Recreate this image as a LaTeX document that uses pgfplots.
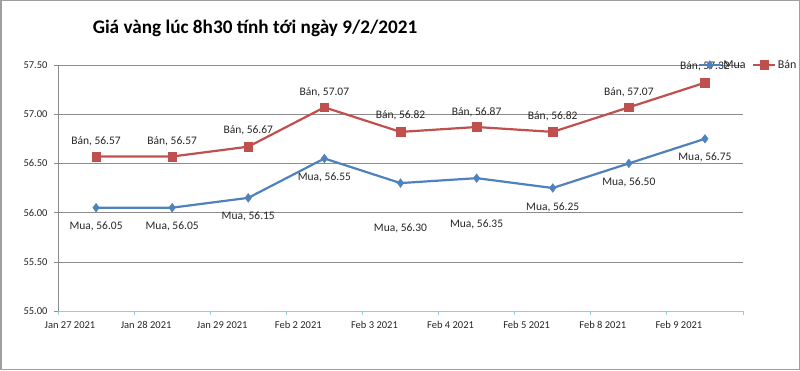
\documentclass[border=0pt]{standalone}
\usepackage{pgfplots}
\pgfplotsset{compat=1.18}
\usepackage{pgfplotstable}
\usepackage{fontspec}
\setmainfont{Carlito}
\definecolor{muablue}{HTML}{4F81BD}
\definecolor{banred}{HTML}{C0504D}
\definecolor{gridgray}{HTML}{8C8C8C}
\definecolor{axteal}{HTML}{8ED0DA}
\definecolor{txt}{HTML}{262626}

\pgfplotstableread{
x y dy
0 56.05 -19
1 56.05 -19
2 56.15 -19
3 56.55 -19
4 56.30 -45
5 56.35 -46
6 56.25 -19
7 56.50 -19
8 56.75 -19
}\muatable
\pgfplotstableread{
x y dy
0 56.57 15
1 56.57 15
2 56.67 16
3 57.07 15
4 56.82 17
5 56.87 15
6 56.82 16
7 57.07 15
8 57.32 16
}\bantable

\begin{document}
\begin{tikzpicture}
\draw[gray!75, line width=1.5pt] (0.75pt,0.75pt) rectangle (799.25pt,369.25pt);
\node[font=\bfseries\fontsize{19.2}{22}\selectfont, text=black, anchor=center] at (255pt,342pt) {Giá vàng lúc 8h30 tính tới ngày 9/2/2021};
\begin{axis}[
  at={(58pt,59pt)}, anchor=south west, scale only axis,
  width=685pt, height=246pt,
  xmin=-0.5, xmax=8.5, ymin=55, ymax=57.5,
  xtick={-0.5,0.5,1.5,2.5,3.5,4.5,5.5,6.5,7.5,8.5},
  xticklabels={Jan 27 2021,Jan 28 2021,Jan 29 2021,Feb 2 2021,Feb 3 2021,Feb 4 2021,Feb 5 2021,Feb 8 2021,Feb 9 2021,{}},
  ytick={55,55.5,56,56.5,57,57.5},
  ymajorgrids, grid style={gridgray, line width=0.6pt},
  axis x line*=bottom, axis y line*=left,
  x axis line style={axteal, line width=0.8pt, -},
  y axis line style={gridgray, line width=0.6pt, -},
  tick align=outside, major tick length=4pt,
  xtick style={axteal, line width=0.8pt},
  ytick style={gridgray, line width=0.6pt},
  tick label style={font=\fontsize{10.5}{12}\selectfont, text=txt},
  /pgf/number format/assume math mode=true,
  yticklabel={\pgfmathprintnumber[fixed,fixed zerofill,precision=2]{\tick}},
  yticklabel style={xshift=-3pt},
  xticklabel style={xshift=12pt, yshift=-3pt},
  legend image code/.code={\draw[mark repeat=2,mark phase=2] plot coordinates {(0pt,0pt)(11pt,0pt)(22pt,0pt)};},
  legend style={at={(0.932,1)}, anchor=west, draw=none, fill=none,
    font=\fontsize{12}{14}\selectfont, text=txt, legend columns=2,
    inner sep=1pt,
    /tikz/every even column/.append style={column sep=5pt},
    nodes={inner sep=1.5pt}},
  clip=false,
]
\addplot[muablue, line width=2.2pt, mark=diamond*, mark size=4.3pt, mark options={solid, line width=0.5pt},
  point meta=\thisrow{y},
  visualization depends on={\thisrow{dy} \as \labdy},
  nodes near coords={Mua, \pgfmathprintnumber[fixed,fixed zerofill,precision=2]{\pgfplotspointmeta}},
  every node near coord/.append style={font=\fontsize{11.5}{13}\selectfont, text=txt, anchor=center, yshift=\labdy},
] table[x=x,y=y] {\muatable};
\addlegendentry{Mua}
\addplot[banred, line width=2.2pt, mark=square*, mark size=4.3pt, mark options={solid, line width=0.5pt},
  point meta=\thisrow{y},
  visualization depends on={\thisrow{dy} \as \labdy},
  nodes near coords={Bán, \pgfmathprintnumber[fixed,fixed zerofill,precision=2]{\pgfplotspointmeta}},
  every node near coord/.append style={font=\fontsize{11.5}{13}\selectfont, text=txt, anchor=center, yshift=\labdy},
] table[x=x,y=y] {\bantable};
\addlegendentry{Bán}
\end{axis}
\end{tikzpicture}
\end{document}
